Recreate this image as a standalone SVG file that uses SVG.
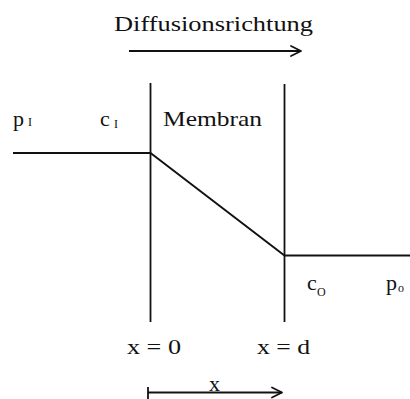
<svg xmlns="http://www.w3.org/2000/svg" width="410" height="399" viewBox="0 0 410 399">
<defs>
<style>
text{font-family:"Liberation Serif","Times New Roman",serif;fill:#111}
.t{font-size:22px}
.s{font-size:12px}
.ln{stroke:#111;stroke-width:1.8;fill:none}
.ah{stroke:#111;stroke-width:1.8;fill:none;stroke-linecap:round;stroke-linejoin:round}
</style>
</defs>
<rect width="410" height="399" fill="#fff"/>
<g id="title">
<text class="t" x="114" y="31" textLength="199" lengthAdjust="spacingAndGlyphs">Diffusionsrichtung</text>
</g>
<g id="membrane">
<line class="ln" x1="150.5" y1="83" x2="150.5" y2="322"/>
<line class="ln" x1="284.5" y1="84" x2="284.5" y2="322"/>
<text class="t" x="163" y="126" textLength="99" lengthAdjust="spacingAndGlyphs">Membran</text>
</g>
<g id="labels">
<text class="t" x="13" y="126">p</text><text class="s" x="28" y="126">I</text>
<text class="t" x="100" y="126">c</text><text class="s" x="114" y="128">I</text>
<text class="t" x="307" y="290">c</text><text class="s" x="317" y="296">O</text>
<text class="t" x="386" y="290">p</text><text class="s" x="398" y="292">o</text>
<text class="t" x="127" y="354" textLength="54" lengthAdjust="spacingAndGlyphs">x = 0</text>
<text class="t" x="257" y="354" textLength="53" lengthAdjust="spacingAndGlyphs">x = d</text>
<text class="t" x="209" y="391">x</text>
</g>
<g id="connectors">
<polyline class="ln" points="13,153 150.5,153 284.5,255.5 410,255.5"/>
<line class="ln" x1="129" y1="51" x2="301" y2="51"/>
<polyline class="ah" points="291,46 301,51 291,56"/>
<line class="ln" x1="148" y1="387" x2="148" y2="399"/>
<line class="ln" x1="148" y1="392.5" x2="282" y2="392.5"/>
<polyline class="ah" points="272,387.5 282,392.5 272,397.5"/>
</g>
</svg>
